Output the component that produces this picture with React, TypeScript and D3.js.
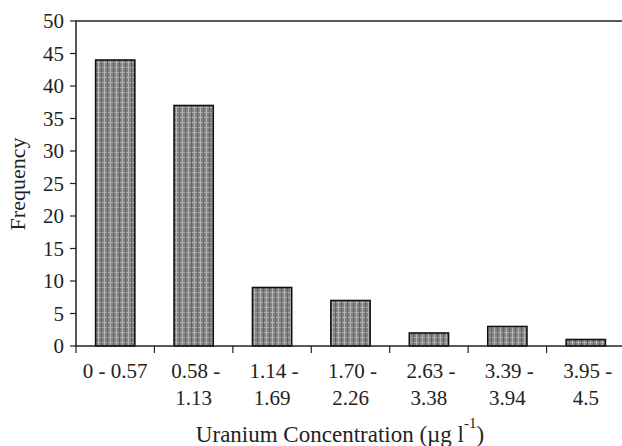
import React from "react";
import * as d3 from "d3";

const categories = ["0 - 0.57", "0.58 - 1.13", "1.14 - 1.69", "1.70 - 2.26", "2.63 - 3.38", "3.39 - 3.94", "3.95 - 4.5"];
const labelLines = [["0 - 0.57"], ["0.58 -", "1.13"], ["1.14 -", "1.69"], ["1.70 -", "2.26"], ["2.63 -", "3.38"], ["3.39 -", "3.94"], ["3.95 -", "4.5"]];
const frequency = [44, 37, 9, 7, 2, 3, 1];
const yTicks = [0, 5, 10, 15, 20, 25, 30, 35, 40, 45, 50];

const App = () => {
  const width = 622, height = 446;
  const left = 76, right = 625, top = 21, bottom = 346;
  const font = "'Liberation Serif', 'Times New Roman', serif";

  const x = d3.scaleBand().domain(categories).range([left, right]).paddingInner(0.5).paddingOuter(0.25);
  const y = d3.scaleLinear().domain([0, 50]).range([bottom, top]);
  const step = x.step();
  const bounds = d3.range(categories.length + 1).map(i => left + i * step);

  return (
    <svg width={width} height={height} style={{ position: "absolute", left: 0, top: 0, background: "#fff" }}>
      <defs>
        <pattern id="hatch" width="6" height="5" patternUnits="userSpaceOnUse">
          <rect width="6" height="5" fill="#808080" />
          <rect x="2" width="1" height="5" fill="#b5b5b5" />
          <rect y="2" width="6" height="1" fill="#adadad" />
          <rect x="5" width="1" height="5" fill="#666" />
        </pattern>
      </defs>

      {frequency.map((v, i) => (
        <rect key={i} x={x(categories[i])} y={y(v)} width={x.bandwidth()} height={bottom - y(v)}
          fill="url(#hatch)" stroke="#111" strokeWidth={1.6} />
      ))}

      <rect x={left} y={top} width={right - left} height={bottom - top} fill="none" stroke="#222" strokeWidth={1.5} />

      {yTicks.map(t => (
        <g key={t}>
          <line x1={left - 6} x2={left} y1={y(t)} y2={y(t)} stroke="#222" strokeWidth={1.2} />
          <text x={left - 12} y={y(t)} dy="0.35em" textAnchor="end" fontFamily={font} fontSize={21} fill="#222">{t}</text>
        </g>
      ))}

      {bounds.map((b, i) => (
        <line key={i} x1={b} x2={b} y1={bottom} y2={bottom + 7} stroke="#222" strokeWidth={1.2} />
      ))}

      {categories.map((c, i) => (
        <text key={c} x={(x(c) as number) + x.bandwidth() / 2} textAnchor="middle" fontFamily={font} fontSize={21} fill="#222">
          {labelLines[i].map((l, j) => (
            <tspan key={j} x={(x(c) as number) + x.bandwidth() / 2 + (j === 0 && labelLines[i].length > 1 ? 2 : 0)} y={378 + j * 27}>{l}</tspan>
          ))}
        </text>
      ))}

      <text x={340} y={442} textAnchor="middle" fontFamily={font} fontSize={23} fill="#222">
        Uranium Concentration (µg l<tspan fontSize={15} dy={-14}>-1</tspan><tspan dy={14}>)</tspan>
      </text>

      <text transform={`translate(25, 184) rotate(-90)`} textAnchor="middle" fontFamily={font} fontSize={22} fill="#222">Frequency</text>
    </svg>
  );
};

export default App;
